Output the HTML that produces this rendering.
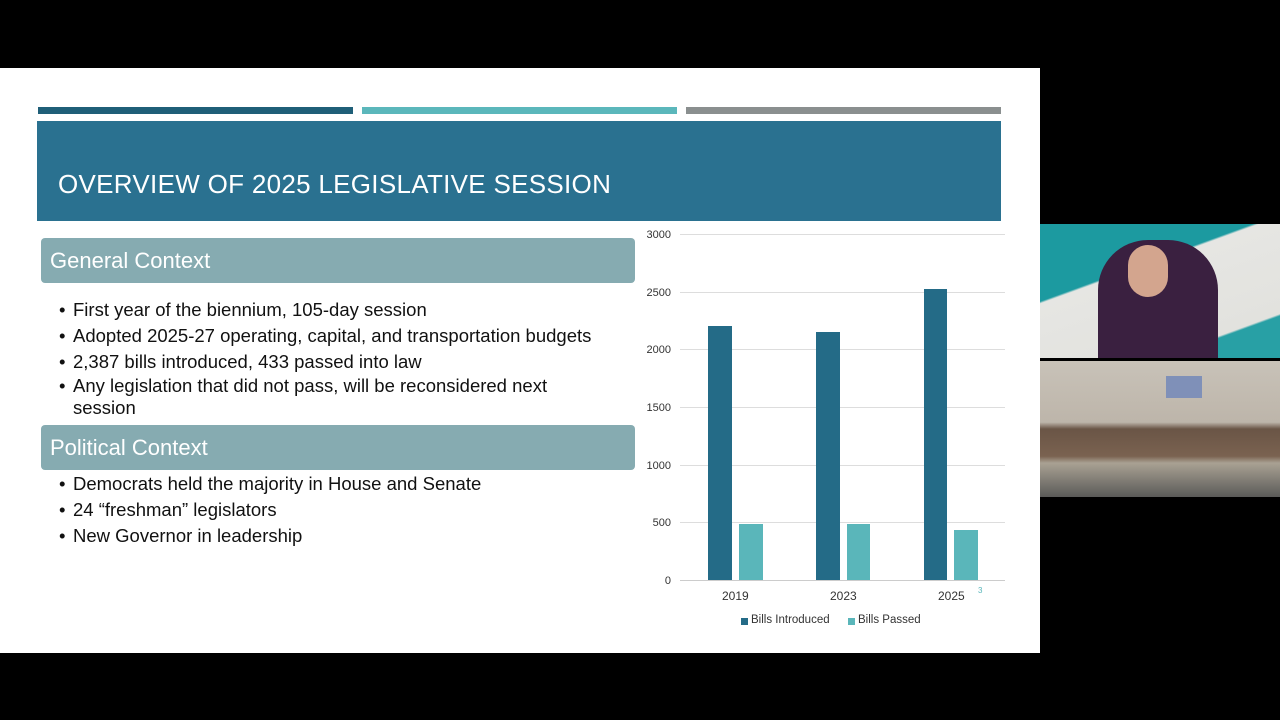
<!DOCTYPE html>
<html><head><style>
body{margin:0;width:1280px;height:720px;background:#000;position:relative;overflow:hidden;font-family:"Liberation Sans",sans-serif}
.a{position:absolute}
.slide{left:0;top:68px;width:1040px;height:585px;background:#fff}
.hd{left:41px;width:594px;height:45px;background:#86abb1;border-radius:4px;color:#fff;font-size:22px;line-height:45px;padding-left:9px;box-sizing:border-box}
ul{position:absolute;left:55px;margin:0;padding:0 0 0 18px;width:500px;font-size:18.5px;color:#111;line-height:26px}
ul li{list-style:none;position:relative}
ul li:before{content:"•";position:absolute;left:-14px}
.yl{position:absolute;left:640px;width:31px;text-align:right;font-size:11px;color:#333}
.gl{position:absolute;left:680px;width:325px;height:1px;background:#ddd}
</style></head><body>
<div class="a slide"></div>
<div class="a" style="left:38px;top:107px;width:315px;height:7px;background:#1f5f78"></div>
<div class="a" style="left:362px;top:107px;width:315px;height:7px;background:#5bb7bb"></div>
<div class="a" style="left:686px;top:107px;width:315px;height:7px;background:#8a8f8f"></div>
<div class="a" style="left:37px;top:121px;width:964px;height:100px;background:#2a7190"></div>
<div class="a" style="left:58px;top:169px;color:#fff;font-size:26px;letter-spacing:0.3px">OVERVIEW OF 2025 LEGISLATIVE SESSION</div>
<div class="a hd" style="top:238px">General Context</div>
<ul style="top:297px">
<li>First year of the biennium, 105-day session</li>
<li style="white-space:nowrap">Adopted 2025-27 operating, capital, and transportation budgets</li>
<li>2,387 bills introduced, 433 passed into law</li>
<li style="line-height:22px">Any legislation that did not pass, will be reconsidered next session</li>
</ul>
<div class="a hd" style="top:425px">Political Context</div>
<ul style="top:471px">
<li>Democrats held the majority in House and Senate</li>
<li>24 “freshman” legislators</li>
<li>New Governor in leadership</li>
</ul>
<div class="gl" style="top:234px"></div><div class="gl" style="top:292px"></div><div class="gl" style="top:349px"></div><div class="gl" style="top:407px"></div><div class="gl" style="top:465px"></div><div class="gl" style="top:522px"></div><div class="gl" style="top:580px;background:#ccc"></div>
<div class="yl" style="top:229px">3000</div><div class="yl" style="top:287px">2500</div><div class="yl" style="top:344px">2000</div><div class="yl" style="top:402px">1500</div><div class="yl" style="top:460px">1000</div><div class="yl" style="top:517px">500</div><div class="yl" style="top:575px">0</div>
<div class="a" style="left:708px;top:326px;width:24px;height:254px;background:#246b87"></div>
<div class="a" style="left:739px;top:524px;width:24px;height:56px;background:#5ab6ba"></div>
<div class="a" style="left:816px;top:332px;width:24px;height:248px;background:#246b87"></div>
<div class="a" style="left:847px;top:524px;width:23px;height:56px;background:#5ab6ba"></div>
<div class="a" style="left:924px;top:289px;width:23px;height:291px;background:#246b87"></div>
<div class="a" style="left:954px;top:530px;width:24px;height:50px;background:#5ab6ba"></div>
<div class="a" style="left:722px;top:589px;font-size:12px;color:#333">2019</div>
<div class="a" style="left:830px;top:589px;font-size:12px;color:#333">2023</div>
<div class="a" style="left:938px;top:589px;font-size:12px;color:#333">2025</div>
<div class="a" style="left:978px;top:586px;font-size:8px;color:#5ab6ba">3</div>
<div class="a" style="left:741px;top:618px;width:7px;height:7px;background:#246b87"></div>
<div class="a" style="left:751px;top:614px;font-size:11.5px;color:#333">Bills Introduced</div>
<div class="a" style="left:848px;top:618px;width:7px;height:7px;background:#5ab6ba"></div>
<div class="a" style="left:858px;top:614px;font-size:11.5px;color:#333">Bills Passed</div>
<div class="a" style="left:1040px;top:224px;width:240px;height:134px;background:linear-gradient(160deg,#1c9aa0 0%,#1c9aa0 35%,#e6e6e3 36%,#e2e2de 80%,#28a0a5 81%)"></div>
<div class="a" style="left:1098px;top:240px;width:120px;height:118px;background:#3a2040;border-radius:50px 50px 0 0"></div>
<div class="a" style="left:1128px;top:245px;width:40px;height:52px;background:#d3a58e;border-radius:20px"></div>
<div class="a" style="left:1040px;top:361px;width:240px;height:136px;background:linear-gradient(180deg,#c8c2b8 0%,#bdb5aa 45%,#6a5546 50%,#7a6250 70%,#a9a193 75%,#5a5a58 100%)"></div>
<div class="a" style="left:1166px;top:376px;width:36px;height:22px;background:#7f90b8"></div>
</body></html>
